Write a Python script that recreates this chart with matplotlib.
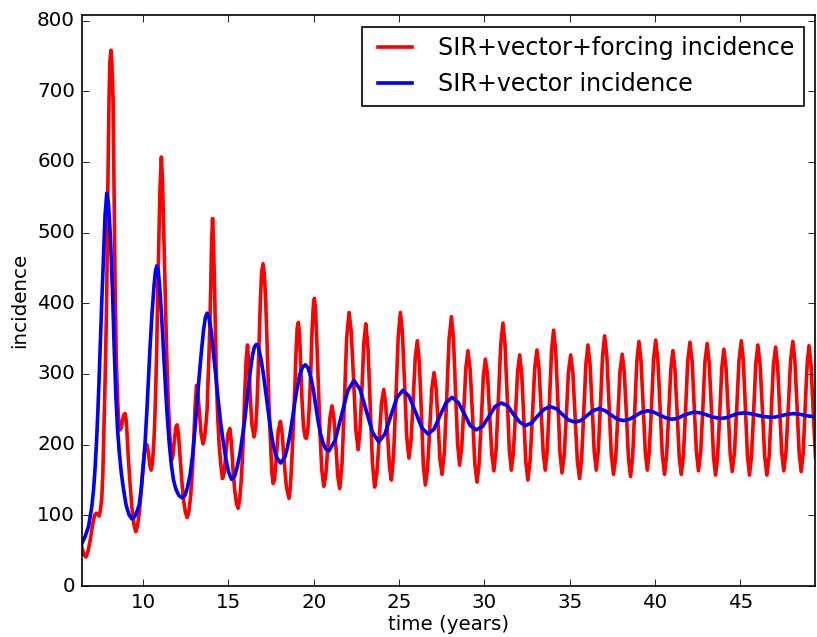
import matplotlib
matplotlib.use("Agg")
import matplotlib.pyplot as plt

# valores (tiempo en anos, incidencia)
# SIR+vector+forcing, primeros anos
t_forcing_early = [6.41, 6.52, 6.65, 6.78, 6.9, 7.03, 7.15, 7.25,
                   7.35, 7.42, 7.5, 7.58, 7.64, 7.70, 7.77, 7.83,
                   7.87, 7.93, 8.0, 8.05, 8.11, 8.17, 8.24, 8.3,
                   8.36, 8.42, 8.5, 8.58, 8.65, 8.72, 8.8, 8.88,
                   8.95, 9.02, 9.08, 9.15, 9.25, 9.34, 9.45, 9.57,
                   9.67, 9.77, 9.87, 9.96, 10.07, 10.15, 10.22, 10.3,
                   10.4, 10.47, 10.55, 10.62, 10.67, 10.74, 10.8, 10.86,
                   10.94, 11.0, 11.07, 11.14, 11.2, 11.29, 11.37, 11.46,
                   11.56, 11.66, 11.75, 11.85, 11.92, 11.99, 12.07, 12.19,
                   12.28, 12.38, 12.48, 12.58, 12.68, 12.78, 12.88, 12.97,
                   13.05, 13.13, 13.2, 13.3, 13.4, 13.51, 13.6, 13.68,
                   13.75, 13.82, 13.91, 13.97, 14.02, 14.07, 14.12, 14.18,
                   14.24, 14.3, 14.38, 14.45, 14.55, 14.65, 14.75, 14.86,
                   14.97, 15.08, 15.17, 15.27, 15.37, 15.47, 15.57, 15.67,
                   15.75, 15.82, 15.9, 15.96, 16.04, 16.12, 16.2, 16.29,
                   16.38, 16.5, 16.6, 16.67, 16.74, 16.81, 16.88, 16.95,
                   17.03, 17.11, 17.19, 17.28, 17.38, 17.48, 17.55, 17.62,
                   17.7, 17.8, 17.92, 18.05, 18.15, 18.27, 18.4, 18.55,
                   18.63, 18.72, 18.8, 18.89, 18.97, 19.03, 19.1, 19.17,
                   19.24, 19.31, 19.4, 19.5, 19.57, 19.65, 19.73, 19.82,
                   19.9, 19.97, 20.04, 20.11, 20.19, 20.29, 20.38, 20.47,
                   20.59]
inc_forcing_early = [55, 45, 41, 50, 65, 85, 100, 103,
                     101, 99, 108, 126, 160, 220, 291, 360,
                     420, 560, 688, 740, 758, 740, 688, 560,
                     420, 330, 265, 230, 221, 224, 235, 243,
                     244, 232, 205, 174, 140, 112, 88, 77,
                     85, 103, 130, 160, 188, 198, 200, 190,
                     170, 164, 175, 200, 225, 280, 340, 420,
                     510, 570, 607, 570, 510, 420, 339, 270,
                     215, 178, 185, 210, 225, 228, 215, 174,
                     145, 120, 104, 97, 105, 126, 160, 207,
                     255, 284, 275, 245, 215, 201, 210, 228,
                     250, 300, 365, 430, 490, 520, 490, 430,
                     355, 287, 235, 202, 172, 152, 160, 190,
                     215, 223, 205, 164, 135, 117, 110, 125,
                     150, 180, 230, 275, 320, 341, 310, 263,
                     228, 211, 225, 255, 300, 355, 410, 445,
                     456, 440, 400, 330, 255, 195, 160, 145,
                     150, 180, 220, 233, 215, 175, 140, 124,
                     140, 180, 225, 280, 335, 365, 373, 355,
                     310, 265, 225, 210, 209, 220, 250, 300,
                     360, 395, 407, 390, 340, 270, 210, 165,
                     141]

# SIR+vector+forcing, oscilacion anual regular
t_forcing_late = [20.71, 20.83, 20.95, 21.07, 21.18, 21.30, 21.41, 21.52,
                  21.66, 21.80, 21.93, 22.07, 22.20, 22.34, 22.47, 22.6,
                  22.71, 22.83, 22.94, 23.05, 23.18, 23.31, 23.44, 23.57,
                  23.70, 23.84, 23.97, 24.1, 24.21, 24.33, 24.44, 24.55,
                  24.68, 24.82, 24.95, 25.08, 25.2, 25.33, 25.45, 25.58,
                  25.70, 25.83, 25.95, 26.07, 26.19, 26.31, 26.42, 26.54,
                  26.67, 26.8, 26.92, 27.05, 27.17, 27.29, 27.40, 27.52,
                  27.66, 27.80, 27.93, 28.07, 28.19, 28.31, 28.43, 28.55,
                  28.67, 28.8, 28.92, 29.04, 29.17, 29.31, 29.44, 29.57,
                  29.69, 29.82, 29.94, 30.06, 30.19, 30.31, 30.44, 30.56,
                  30.69, 30.83, 30.96, 31.09, 31.21, 31.34, 31.46, 31.58,
                  31.70, 31.83, 31.95, 32.07, 32.19, 32.31, 32.43, 32.55,
                  32.68, 32.82, 32.95, 33.08, 33.2, 33.33, 33.45, 33.57,
                  33.69, 33.82, 33.94, 34.06, 34.18, 34.31, 34.43, 34.55,
                  34.68, 34.81, 34.93, 35.06, 35.19, 35.32, 35.45, 35.58,
                  35.70, 35.83, 35.95, 36.07, 36.19, 36.32, 36.44, 36.56,
                  36.68, 36.81, 36.93, 37.05, 37.18, 37.31, 37.44, 37.57,
                  37.70, 37.83, 37.95, 38.08, 38.2, 38.33, 38.45, 38.57,
                  38.69, 38.82, 38.94, 39.06, 39.18, 39.31, 39.43, 39.55,
                  39.67, 39.80, 39.92, 40.04, 40.17, 40.30, 40.43, 40.56,
                  40.68, 40.81, 40.93, 41.05, 41.17, 41.3, 41.42, 41.54,
                  41.67, 41.8, 41.92, 42.05, 42.18, 42.3, 42.43, 42.55,
                  42.68, 42.81, 42.93, 43.06, 43.18, 43.31, 43.43, 43.55,
                  43.67, 43.80, 43.92, 44.04, 44.16, 44.29, 44.41, 44.53,
                  44.66, 44.80, 44.93, 45.06, 45.18, 45.30, 45.42, 45.54,
                  45.66, 45.79, 45.91, 46.03, 46.16, 46.30, 46.43, 46.56,
                  46.69, 46.82, 46.94, 47.07, 47.19, 47.31, 47.43, 47.55,
                  47.68, 47.82, 47.95, 48.08, 48.20, 48.33, 48.45, 48.57,
                  48.69, 48.8, 48.92, 49.03, 49.15, 49.28, 49.41]
inc_forcing_late = [158, 198, 238, 255, 238, 197, 155, 138,
                    174, 263, 351, 387, 359, 290, 221, 193,
                    219, 282, 345, 371, 337, 256, 174, 140,
                    160, 209, 258, 278, 259, 214, 169, 150,
                    185, 269, 352, 387, 357, 284, 211, 181,
                    205, 264, 323, 347, 317, 245, 173, 143,
                    166, 223, 279, 302, 281, 230, 179, 158,
                    191, 270, 348, 381, 350, 276, 202, 171,
                    195, 252, 309, 333, 306, 240, 174, 147,
                    172, 234, 296, 321, 298, 242, 186, 163,
                    194, 268, 341, 372, 342, 268, 194, 164,
                    188, 246, 303, 327, 301, 239, 176, 150,
                    177, 242, 307, 334, 309, 249, 189, 164,
                    193, 263, 333, 362, 333, 261, 189, 160,
                    184, 244, 303, 327, 301, 240, 178, 152,
                    180, 247, 313, 341, 315, 253, 190, 164,
                    192, 259, 326, 354, 325, 256, 187, 158,
                    183, 243, 303, 328, 303, 242, 180, 155,
                    183, 251, 318, 346, 319, 255, 191, 164,
                    191, 256, 321, 348, 320, 253, 186, 158,
                    184, 246, 307, 333, 307, 246, 184, 158,
                    185, 252, 318, 345, 318, 254, 190, 163,
                    189, 253, 317, 343, 316, 250, 184, 157,
                    183, 246, 309, 335, 310, 249, 187, 162,
                    189, 255, 320, 347, 319, 252, 185, 157,
                    184, 249, 314, 341, 314, 249, 184, 157,
                    183, 248, 312, 338, 312, 251, 189, 163,
                    190, 255, 319, 346, 319, 254, 189, 162,
                    188, 251, 314, 340, 312, 245, 182]

# SIR+vector
t_vector = [6.41, 6.6, 6.8, 6.99, 7.1, 7.19, 7.27, 7.35,
            7.43, 7.5, 7.58, 7.68, 7.77, 7.87, 7.97, 8.08,
            8.2, 8.3, 8.4, 8.5, 8.6, 8.72, 8.85, 9.0,
            9.17, 9.34, 9.5, 9.65, 9.77, 9.9, 10.02, 10.12,
            10.22, 10.32, 10.41, 10.52, 10.64, 10.72, 10.8, 10.89,
            10.98, 11.1, 11.2, 11.29, 11.4, 11.52, 11.65, 11.78,
            11.92, 12.1, 12.27, 12.45, 12.6, 12.75, 12.9, 13.05,
            13.17, 13.28, 13.41, 13.54, 13.65, 13.75, 13.86, 13.98,
            14.1, 14.25, 14.39, 14.54, 14.69, 14.85, 15.0, 15.18,
            15.35, 15.5, 15.66, 15.8, 15.96, 16.1, 16.25, 16.4,
            16.52, 16.64, 16.76, 16.9, 17.03, 17.18, 17.32, 17.47,
            17.62, 17.8, 18.05, 18.3, 18.45, 18.59, 18.74, 18.89,
            19.04, 19.18, 19.35, 19.51, 19.68, 19.83, 19.96, 20.1,
            20.25, 20.4, 20.55, 20.7, 20.88, 21.25, 21.62, 21.99,
            22.36, 22.72, 23.09, 23.45, 23.81, 24.17, 24.52, 24.88,
            25.23, 25.6, 25.97, 26.33, 26.7, 27.05, 27.4, 27.75,
            28.1, 28.46, 28.82, 29.17, 29.53, 29.9, 30.27, 30.63,
            31.0, 31.36, 31.71, 32.07, 32.42, 32.78, 33.14, 33.49,
            33.85, 34.21, 34.57, 34.93, 35.29, 35.65, 36.0, 36.36,
            36.72, 37.08, 37.43, 37.79, 38.15, 38.51, 38.86, 39.22,
            39.58, 39.93, 40.28, 40.63, 40.98, 41.31, 41.64, 41.97,
            42.3, 42.67, 43.05, 43.42, 43.8, 44.15, 44.51, 44.86,
            45.22, 45.59, 45.95, 46.32, 46.69, 47.05, 47.4, 47.76,
            48.12, 48.5, 48.87, 49.2, 49.41]
inc_vector = [60, 70, 84, 112, 138, 169, 205, 248,
              300, 350, 405, 470, 525, 556, 540, 495,
              420, 340, 270, 222, 190, 160, 137, 115,
              101, 95, 98, 106, 115, 140, 172, 205,
              248, 295, 340, 385, 425, 445, 453, 445,
              420, 375, 330, 290, 245, 205, 172, 150,
              137, 128, 125, 128, 140, 157, 185, 225,
              262, 295, 330, 362, 380, 386, 380, 362,
              335, 300, 265, 232, 205, 180, 162, 151,
              155, 167, 185, 208, 236, 266, 298, 325,
              338, 342, 338, 322, 303, 275, 248, 222,
              200, 183, 174, 182, 195, 212, 235, 260,
              282, 299, 310, 313, 308, 295, 280, 258,
              234, 215, 202, 194, 191, 206, 241, 276,
              291, 278, 247, 217, 204, 215, 241, 267,
              277, 268, 246, 224, 215, 222, 241, 259,
              267, 260, 244, 227, 221, 226, 240, 254,
              259, 255, 243, 232, 227, 231, 241, 250,
              254, 251, 243, 235, 232, 234, 241, 248,
              251, 248, 242, 236, 234, 236, 241, 246,
              248, 246, 242, 238, 236, 237, 241, 244,
              246, 245, 242, 239, 237, 238, 241, 244,
              245, 244, 242, 240, 239, 239, 241, 243,
              244, 243, 241, 240, 239]

t_forcing = t_forcing_early + t_forcing_late
inc_forcing = inc_forcing_early + inc_forcing_late

plt.style.use("classic")
fig = plt.figure(figsize=(817 / 119, 637 / 119), dpi=119, facecolor="white")
ax = fig.add_axes([81.7 / 817, 1 - 586 / 637, (815.5 - 81.7) / 817, (586 - 15) / 637])

ax.plot(t_forcing, inc_forcing, color="red", lw=2.2, label="SIR+vector+forcing incidence")
ax.plot(t_vector, inc_vector, color="blue", lw=2.2, label="SIR+vector incidence")

ax.set_xlim(6.4, 49.41)
ax.set_ylim(0, 808)
ax.set_xticks(range(10, 50, 5))
ax.set_yticks(range(0, 900, 100))
ax.set_xlabel("time (years)", labelpad=2)
ax.set_ylabel("incidence")
ax.legend(loc="upper right", fontsize="large")

fig.savefig("out.png", dpi=119, facecolor="white")
